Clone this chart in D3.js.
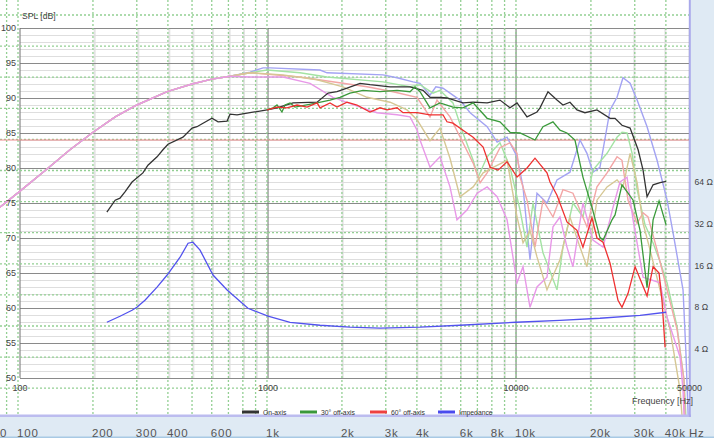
<!DOCTYPE html>
<html><head><meta charset="utf-8">
<script src="https://cdn.jsdelivr.net/npm/d3@7"></script>
<style>
body{margin:0;background:#fff;overflow:hidden}
svg{display:block}
text{font-family:"Liberation Sans",Arial,sans-serif}
</style>
</head><body>
<svg id="c" width="714" height="438"></svg>
<script>
// ---------- data ----------
const dbTicks = [50,55,60,65,70,75,80,85,90,95,100];
const freqTicks = [100,1000,10000,50000];
const freqTickLabels = ["100","1000","10000","50000"];
const ohmTicks = [4,8,16,32,64];
const bandTicks = [100,200,300,400,600,1000,2000,3000,4000,6000,8000,10000,20000,30000,40000];
const bandLabels = ["100","200","300","400","600","1k","2k","3k","4k","6k","8k","10k","20k","30k","40k"];
const legendNames = ["On-axis","30° off-axis","60° off-axis","Impedance"];
const refLevel = 84;

const onAxis = [[224,73.7],[242,75.4],[253,75.7],[265,76.6],[283,78.0],[313,79.3],[328,80.4],[357,81.6],[377,82.6],[395,83.4],[454,84.4],[494,85.7],[517,85.9],[547,86.4],[594,87.1],[629,86.6],[684,86.7],[703,87.7],[750,87.6],[846,87.9],[991,88.3],[1087,88.6],[1262,89.3],[1577,89.4],[1746,90.7],[1897,90.9],[2082,91.4],[2350,92.1],[2577,91.9],[3105,91.6],[3737,91.6],[4216,91.1],[4499,90.1],[4936,90.1],[5267,90.0],[6109,89.3],[6715,89.4],[7646,89.3],[8614,89.7],[9460,88.6],[10093,89.3],[11073,87.3],[12147,88.0],[12489,88.6],[13452,90.9],[14625,89.7],[15460,89.0],[16497,89.4],[17605,88.3],[18960,87.9],[21195,88.3],[23935,87.1],[25070,87.1],[26740,86.1],[28830,85.7],[31060,82.6],[32520,79.7],[33750,75.9],[35690,77.6],[38080,77.9],[40270,78.1]];

const offAxis30 = [[991,88.3],[1048,88.6],[1087,89.0],[1138,88.0],[1171,89.0],[1227,89.3],[1285,88.7],[1577,89.3],[1778,89.7],[1950,90.1],[2140,90.7],[2416,91.1],[2829,90.9],[3313,91.1],[3737,90.9],[3914,91.6],[4100,90.9],[4499,88.6],[4936,89.3],[5568,88.7],[6109,88.6],[6715,89.3],[7646,87.1],[8614,86.6],[9460,85.1],[10377,85.0],[11924,84.0],[12841,85.9],[14092,86.6],[15037,85.4],[16045,85.0],[17281,84.0],[18611,78.7],[20233,74.4],[21790,70.1],[22430,69.7],[24380,72.6],[25070,73.3],[26740,77.6],[28290,76.4],[29640,75.4],[31620,71.1],[33750,62.9],[35690,72.6],[37730,75.3],[40270,71.9]];

const offAxis60 = [[991,88.3],[1087,88.7],[1193,88.6],[1309,89.0],[1437,88.7],[1577,89.3],[1621,88.6],[1778,89.3],[1897,88.7],[2082,89.4],[2285,89.0],[2577,88.0],[2829,88.6],[3020,88.3],[3313,88.6],[3502,87.9],[3988,87.9],[4499,87.6],[5075,87.6],[5267,86.6],[5568,86.4],[6109,85.4],[6715,84.4],[7367,83.0],[7861,80.1],[8465,79.7],[9201,80.9],[10093,78.7],[11073,80.0],[11924,81.4],[13327,79.3],[13706,78.0],[14625,76.1],[16045,72.3],[17605,71.1],[18611,68.7],[20233,72.9],[21195,70.0],[22430,69.4],[23935,66.4],[25770,61.1],[26740,60.1],[28290,62.1],[30200,65.9],[33750,61.7],[35690,65.9],[37730,65.0],[38800,60.9],[39900,54.4]];

const impedance = [[224,6.26],[253,6.92],[283,7.64],[296,8.03],[319,9.02],[357,11.2],[392,13.7],[442,18.4],[476,23.2],[498,23.6],[532,20.7],[600,13.7],[684,10.7],[830,7.9],[1000,6.92],[1227,6.26],[1621,5.96],[2140,5.77],[2829,5.68],[4100,5.77],[5942,5.96],[10000,6.26],[15037,6.47],[21790,6.69],[31620,7.03],[40270,7.39]];

// pale (full-range) curves: shared low part + individual upper parts
const paleLow = [[83,74.4],[100,76.7],[126,79.6],[159,82.6],[197,85.1],[242,87.3],[296,89.0],[392,90.9],[494,92.0],[594,92.7],[703,93.1]];
const paleBlueHigh = [[846,93.7],[955,94.3],[1019,94.3],[1621,94.0],[1730,93.6],[2909,93.3],[3313,92.9],[3843,92.3],[4100,92.1],[4499,90.4],[4750,91.6],[5075,91.4],[5942,89.7],[6531,87.9],[7646,85.9],[8389,83.7],[9201,84.4],[10093,81.6],[10669,77.3],[11385,66.9],[12147,76.4],[13327,75.0],[14625,78.3],[16497,79.4],[18101,84.0],[19316,82.1],[20420,79.4],[21790,80.1],[23935,88.3],[25540,90.1],[26990,92.9],[28830,92.1],[30770,89.7],[33750,85.9],[37030,81.1],[40640,75.4],[42990,70.7],[47130,62.6],[48400,53.7],[49430,44.6]];
const paleGreenHigh = [[846,93.6],[991,94.0],[1346,93.6],[1730,93.0],[2909,92.3],[3737,91.6],[4100,91.9],[4626,90.7],[4936,91.1],[5568,89.3],[6109,85.0],[6715,81.1],[7034,78.7],[7646,81.6],[8614,83.6],[9460,80.1],[10377,74.0],[11073,68.7],[11705,75.0],[12841,67.9],[14625,62.6],[15460,68.7],[16962,75.0],[18611,73.0],[20420,79.7],[23280,82.1],[25540,84.4],[26740,85.1],[28030,85.0],[29370,82.1],[30770,76.9],[33110,71.9],[35690,69.3],[38080,66.6],[40640,63.6],[44600,57.3],[47560,49.7],[48400,44.6]];
const paleSalmonHigh = [[846,93.6],[1346,93.0],[2005,92.1],[2507,91.6],[3192,90.9],[3988,90.1],[4499,87.3],[4801,89.7],[5416,87.3],[6109,83.6],[6715,80.7],[7165,77.9],[7646,79.3],[8614,82.9],[9460,83.6],[10093,82.1],[10377,78.7],[11073,75.4],[11924,68.7],[12841,75.4],[14092,73.0],[15460,76.9],[16962,76.4],[19316,71.6],[21195,77.3],[23280,79.3],[25540,81.6],[26740,81.1],[28290,75.4],[30770,72.1],[32520,73.6],[34060,73.0],[37030,68.3],[40640,62.6],[44600,56.9],[47560,49.7],[47980,44.6]];
const paleTanHigh = [[846,93.6],[1149,93.3],[1577,92.6],[2005,91.6],[2507,90.1],[3105,89.4],[3633,88.3],[3988,86.9],[4499,83.9],[4936,85.7],[5416,81.4],[5942,75.9],[6715,77.3],[7367,79.3],[8083,80.1],[9201,81.1],[10093,73.0],[10669,69.3],[11385,71.1],[12147,67.3],[13327,62.6],[15037,66.9],[16497,73.0],[18101,68.7],[19316,65.9],[21195,75.4],[23280,77.3],[25540,78.3],[26990,77.3],[28830,82.1],[30770,77.9],[32520,72.1],[34700,68.3],[38080,62.6],[41780,56.9],[45840,48.3],[46690,44.6]];
const palePinkHigh = [[846,93.0],[1149,93.0],[1477,92.1],[1828,90.1],[2350,88.7],[2752,87.9],[3313,87.6],[3737,87.3],[3988,85.4],[4100,84.0],[4499,80.1],[4936,81.6],[5416,77.3],[5779,72.6],[6340,74.0],[6969,76.4],[7646,77.3],[8389,75.9],[9201,72.6],[10093,63.6],[10669,65.9],[11385,60.1],[12147,63.0],[13327,64.4],[14092,71.6],[15037,73.0],[16045,68.7],[16962,65.9],[18611,75.0],[20420,69.7],[22430,68.7],[24610,74.4],[26250,78.0],[28030,78.7],[29640,72.6],[32520,64.4],[38080,63.6],[40640,58.7],[45840,53.0],[47130,48.3],[47560,44.6]];

// ---------- scales ----------
const svg = d3.select("#c");
const x = d3.scaleLog().domain([100,50000]).range([20,689.4]);
const y = d3.scaleLinear().domain([50,100]).range([378,28]);
const z = d3.scaleLog().domain([4,64]).range([349.3,182]);
const xo = d3.scaleLog().domain([100,50000]).range([18,690]); // overlay grid scale

// ---------- underlying plot grid ----------
const gGrid = svg.append("g");
const minorF = [];
[100,1000,10000].forEach(d=>{for(let k=2;k<=9;k++){const f=d*k; if(f<50000) minorF.push(f);}});
gGrid.selectAll(".vmin").data(minorF).join("line")
  .attr("x1",d=>x(d)).attr("x2",d=>x(d)).attr("y1",y(100)).attr("y2",y(50))
  .attr("stroke","#e3e3e3").attr("stroke-width",2);
const minorDb = d3.range(50,101).filter(d=>d%5!==0);
gGrid.selectAll(".hmin").data(minorDb).join("line")
  .attr("x1",x(100)).attr("x2",x(50000)).attr("y1",d=>y(d)+0.5).attr("y2",d=>y(d)+0.5)
  .attr("stroke","#dedede");
gGrid.selectAll(".hmaj").data(dbTicks).join("line")
  .attr("x1",x(100)).attr("x2",x(50000)).attr("y1",d=>y(d)+0.5).attr("y2",d=>y(d)+0.5)
  .attr("stroke","#8a8a8a");
gGrid.selectAll(".vmaj").data([100,1000,10000,50000]).join("line")
  .attr("x1",d=>x(d)).attr("x2",d=>x(d)).attr("y1",y(100)).attr("y2",y(50))
  .attr("stroke","#707070");

// ---------- overlay green dotted grid ----------
const overlayF = [90];
[100,1000,10000].forEach(d=>{for(let k=1;k<=9;k++){const f=d*k; if(f<=40000) overlayF.push(f);}});
const gOv = svg.append("g").attr("stroke","#93cf93").attr("stroke-width",1.3).attr("stroke-dasharray","2,2");
gOv.selectAll(".ov").data(overlayF).join("line")
  .attr("x1",d=>xo(d)).attr("x2",d=>xo(d)).attr("y1",0).attr("y2",415);
gOv.selectAll(".oh").data(d3.range(13)).join("line")
  .attr("x1",0).attr("x2",689).attr("y1",d=>15+d*31.1).attr("y2",d=>15+d*31.1);

// reference level line
svg.append("line").attr("x1",0).attr("x2",x(50000)).attr("y1",y(refLevel)).attr("y2",y(refLevel))
  .attr("stroke","#ee8c8c").attr("stroke-width",1.2);

// ---------- curves ----------
const spl = d3.line().x(d=>x(d[0])).y(d=>y(d[1]));
const imp = d3.line().x(d=>x(d[0])).y(d=>z(d[1]));
const pale = [
  [paleLow.concat(paleBlueHigh),"#a3a3f3"],
  [paleLow.concat(paleGreenHigh),"#a3e3a3"],
  [paleLow.concat(paleSalmonHigh),"#f3a6a6"],
  [paleLow.concat(paleTanHigh),"#d6c794"],
  [paleLow.concat(palePinkHigh),"#e898e8"]
];
svg.append("g").selectAll("path").data(pale).join("path")
  .attr("d",d=>spl(d[0])).attr("fill","none").attr("stroke",d=>d[1]).attr("stroke-width",1.4);

const mains = [[onAxis,"#333333"],[offAxis30,"#3a9a3a"],[offAxis60,"#ef3030"]];
svg.append("g").selectAll("path").data(mains).join("path")
  .attr("d",d=>spl(d[0])).attr("fill","none").attr("stroke",d=>d[1]).attr("stroke-width",1.3);
svg.append("path").attr("d",imp(impedance)).attr("fill","none").attr("stroke","#5252ee").attr("stroke-width",1.3);

// ---------- frame bands ----------
svg.append("rect").attr("x",690.5).attr("y",0).attr("width",24).attr("height",438).attr("fill","#dfeaf4");
svg.append("rect").attr("x",0).attr("y",416).attr("width",714).attr("height",22).attr("fill","#dfeaf4");
svg.append("rect").attr("x",0).attr("y",414.5).attr("width",691).attr("height",2.5).attr("fill","#bcbcef");
svg.append("rect").attr("x",688.8).attr("y",0).attr("width",2).attr("height",417).attr("fill","#a9a9ea");
svg.append("rect").attr("x",0).attr("y",436.5).attr("width",714).attr("height",2).attr("fill","#a8c9e4");

// ---------- texts / axes ----------
svg.append("g").selectAll("text").data(dbTicks).join("text")
  .attr("x",16).attr("y",d=>y(d)+3).attr("text-anchor","end")
  .attr("font-size",9).attr("fill","#444").text(d=>d);
svg.append("g").selectAll("text").data(freqTicks).join("text")
  .attr("x",d=>x(d)).attr("y",390.5).attr("text-anchor","middle")
  .attr("font-size",9).attr("fill","#444").text((d,i)=>freqTickLabels[i]);
svg.append("text").attr("x",22).attr("y",19).attr("font-size",8.6).attr("fill","#444").text("SPL [dB]");
svg.append("text").attr("x",693).attr("y",404).attr("text-anchor","end").attr("font-size",9).attr("fill","#444").text("Frequency [Hz]");

// legend
const legColors = ["#333333","#3a983a","#ee4040","#4a4aee"];
const legX = [242,300,370,438];
const gL = svg.append("g");
legendNames.forEach((n,i)=>{
  gL.append("line").attr("x1",legX[i]).attr("x2",legX[i]+17).attr("y1",412).attr("y2",412)
    .attr("stroke",legColors[i]).attr("stroke-width",3);
  gL.append("text").attr("x",legX[i]+21).attr("y",414.5).attr("font-size",6.8).attr("fill","#333").text(n);
});

// right impedance labels
svg.append("g").selectAll("text").data(ohmTicks).join("text")
  .attr("x",694.5).attr("y",d=>z(d)+3).attr("font-size",8.6).attr("fill","#444").text(d=>d+" Ω");

// bottom band labels
const gB = svg.append("g").attr("font-family","DejaVu Sans, sans-serif").attr("font-size",11.5)
  .attr("letter-spacing",0.8).attr("fill","#555");
gB.selectAll("text").data(bandTicks).join("text")
  .attr("x",d=>xo(d)-1).attr("y",436.5).text((d,i)=>bandLabels[i]);
gB.append("text").attr("x",0).attr("y",436.5).text("0");
gB.append("text").attr("x",xo(50000)-1).attr("y",436.5).text("Hz");
</script>
</body></html>
